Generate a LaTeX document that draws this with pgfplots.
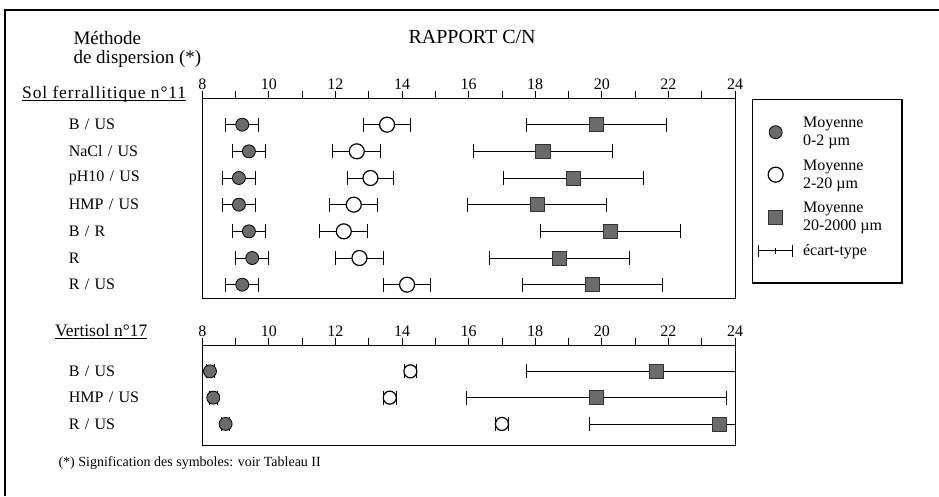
\documentclass[border=0pt]{standalone}
\usepackage{fontspec}
\setmainfont{Liberation Serif}
\usepackage{pgfplots}
\pgfplotsset{compat=1.18}
\usepackage{pgfplotstable}

\newcommand\rowfont{\fontsize{16}{19}\selectfont}
\newcommand\tickfont{\fontsize{16}{19}\selectfont}
\newcommand\legfont{\fontsize{16}{18}\selectfont}
\newcommand\headfont{\fontsize{19}{21}\selectfont}
\newcommand\titlefont{\fontsize{20}{22}\selectfont}
\newcommand\notefont{\fontsize{14}{16}\selectfont}

% Sol ferrallitique n°11 : x = C/N, y = -row, e = ecart-type
\pgfplotstableread{
x     y   e
9.20  -1  0.50
9.40  -2  0.50
9.10  -3  0.50
9.10  -4  0.50
9.40  -5  0.50
9.50  -6  0.50
9.20  -7  0.50
}\ferA
\pgfplotstableread{
x     y   e
13.55 -1  0.70
12.64 -2  0.72
13.05 -3  0.70
12.55 -4  0.72
12.25 -5  0.72
12.72 -6  0.73
14.15 -7  0.70
}\ferB
\pgfplotstableread{
x     y   e
19.84 -1  2.10
18.23 -2  2.10
19.14 -3  2.10
18.05 -4  2.10
20.25 -5  2.10
18.73 -6  2.10
19.73 -7  2.10
}\ferC
% Vertisol n°17
\pgfplotstableread{
x     y   e
8.23  -1  0.12
8.33  -2  0.12
8.70  -3  0.12
}\verA
\pgfplotstableread{
x     y   e
14.25 -1  0.19
13.63 -2  0.19
17.00 -3  0.19
}\verB
\pgfplotstableread{
x     y   e
21.64 -1  3.90
19.84 -2  3.90
23.53 -3  3.90
}\verC

\pgfplotsset{
  panel/.style={
    scale only axis, width=532.7pt, anchor=north west,
    xmin=8, xmax=24, ymax=0,
    axis line style={line width=1pt},
    xtick={8,10,...,24}, minor xtick={9,11,...,23},
    xtick pos=right, xticklabel pos=right,
    tick align=outside, major tick length=7pt, minor tick length=7pt,
    tick style={line width=0.8pt, black},
    ytick style={draw=none},
    xticklabel style={font=\tickfont, inner sep=1pt},
    yticklabel style={font=\rowfont, text width=123pt, align=left},
    /pgf/number format/assume math mode=true,
    legend image code/.code={\draw[mark repeat=2,mark phase=2] plot coordinates {(0pt,0pt) (17pt,0pt) (34pt,0pt)};},
  },
  errs/.style={error bars/.cd, x dir=both, x explicit,
    error mark=|,
    error bar style={line width=0.9pt, black},
    error mark options={mark size=7pt, line width=0.9pt, black}},
  fine/.style={only marks, mark=*, mark size=6.5pt,
    mark options={fill=black!58, draw=black, line width=0.8pt}},
  silt/.style={only marks, mark=*, mark size=7.5pt,
    mark options={fill=white, draw=black, line width=1.2pt}},
  sand/.style={only marks, mark=square*, mark size=7pt,
    mark options={fill=black!58, draw=black!80, line width=0.8pt}},
}

\begin{document}
\begin{tikzpicture}
\useasboundingbox (0pt,0pt) rectangle (939pt,-496pt);
\draw[line width=1.2pt] (5pt,-496pt) -- (5pt,-10pt) -- (939pt,-10pt);

\node[anchor=base west, font=\headfont] at (70pt,-44pt) {Méthode};
\node[anchor=base west, font=\headfont] at (70pt,-63pt) {de dispersion (*)};
\node[anchor=base west, font=\titlefont] at (405pt,-43pt) {RAPPORT C/N};
\node (sol) [anchor=base west, font=\fontsize{17.5}{19}\selectfont\addfontfeatures{LetterSpace=5}, inner sep=0pt] at (22pt,-98pt) {Sol ferrallitique n°11};
\draw[line width=0.8pt] ([yshift=-2.5pt]sol.base west) -- ([yshift=-2.5pt]sol.base east);
\node (ver) [anchor=base west, font=\fontsize{17.5}{19}\selectfont, inner sep=0pt] at (55pt,-336pt) {Vertisol n°17};
\draw[line width=0.8pt] ([yshift=-2.5pt]ver.base west) -- ([yshift=-2.5pt]ver.base east);
\node[anchor=base west, font=\notefont] at (55pt,-466pt) {(*) Signification des symboles: voir Tableau II};

\begin{axis}[panel, at={(202.3pt,-98pt)}, height=200pt, ymin=-7.5,
  ytick={-7,...,-1},
  yticklabels={R / US, R, B / R, HMP / US, pH10 / US, NaCl / US, B / US},
  legend style={at={(1,1)}, anchor=north west, xshift=23pt, yshift=-17pt,
    draw=none, fill=none, inner sep=0pt, font=\legfont,
    cells={anchor=west, align=left}, row sep=8.5pt, column sep=8pt},
  legend cell align=left]
\addplot+[fine, errs] table[x=x, y=y, x error=e] {\ferA};
\addlegendentry{Moyenne\\0-2 µm}
\addplot+[silt, errs] table[x=x, y=y, x error=e] {\ferB};
\addlegendentry{Moyenne\\2-20 µm}
\addplot+[sand, errs] table[x=x, y=y, x error=e] {\ferC};
\addlegendentry{Moyenne\\20-2000 µm}
\addlegendimage{legend image code/.code={
  \draw[line width=0.9pt] (0pt,0pt) -- (34pt,0pt);
  \draw[line width=0.9pt] (0pt,-6pt) -- (0pt,6pt);
  \draw[line width=0.9pt] (34pt,-6pt) -- (34pt,6pt);
  \draw[line width=0.6pt] (17pt,-3pt) -- (17pt,3pt);}}
\addlegendentry{écart-type}
\end{axis}
\draw[line width=1pt] (752pt,-99pt) rectangle (902pt,-283pt);
\draw[line width=1.8pt] (752pt,-283pt) -- (902pt,-283pt) -- (902pt,-99pt);

\begin{axis}[panel, at={(202.3pt,-345pt)}, height=100pt, ymin=-3.8,
  ytick={-3,...,-1},
  yticklabels={R / US, HMP / US, B / US}]
\addplot+[fine, errs] table[x=x, y=y, x error=e] {\verA};
\addplot+[silt, mark size=6.5pt, errs] table[x=x, y=y, x error=e] {\verB};
\addplot+[sand, errs] table[x=x, y=y, x error=e] {\verC};
\end{axis}
\end{tikzpicture}
\end{document}
